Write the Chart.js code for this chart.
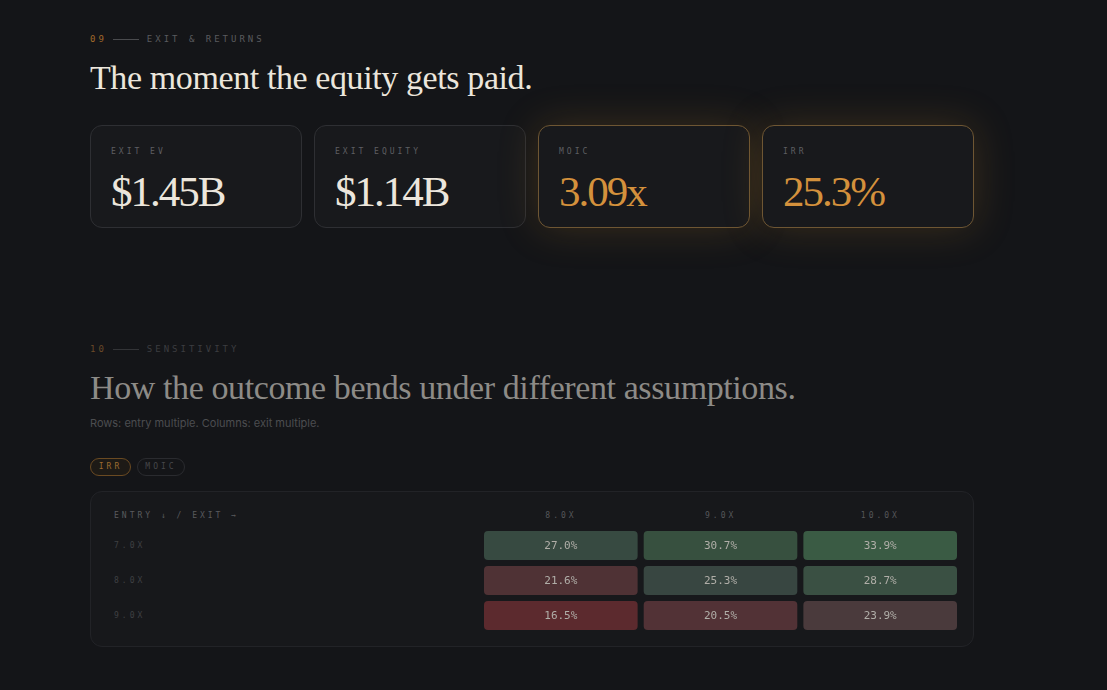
<!DOCTYPE html>
<html>
<head>
<meta charset="utf-8">
<script src="https://cdn.jsdelivr.net/npm/chart.js@4"></script>
<style>
  html, body { margin: 0; background: #141518; width: 1107px; height: 690px; overflow: hidden; }
  body { position: relative; font-family: "Inter", sans-serif; }
  .mono { font-family: "DejaVu Sans Mono", monospace; letter-spacing: 3px; font-size: 9px; text-transform: uppercase; }
  .abs { position: absolute; }
  .eyebrow { color: #5a5b5e; }
  .eyebrow b { font-weight: normal; color: #a0682a; }
  .eyebrow i { display: inline-block; width: 26px; height: 1px; background: #4a4b4e; vertical-align: middle; margin: 0 8px 0 6px; }
  h1 { position: absolute; margin: 0; font-family: "Liberation Serif", serif; font-weight: normal; font-size: 34px; letter-spacing: -0.4px; }
  .card { position: absolute; top: 125px; width: 212px; height: 103px; border: 1px solid #2e2f33; border-radius: 12px; background: #18191c; box-sizing: border-box; }
  .card.hot { border-color: #6e5633; box-shadow: 0 0 40px rgba(190,130,40,0.22); }
  .card .lab { position: absolute; left: 20px; top: 21px; font-size: 8px; color: #5e5f62; }
  .card .val { position: absolute; left: 20px; top: 41px; font-family: "Liberation Serif", serif; font-size: 43px; color: #ece6dc; letter-spacing: -2px; }
  .card.hot .val { color: #d4913c; }
  .pill { position: absolute; top: 458px; height: 18px; border-radius: 10px; box-sizing: border-box; font-size: 8px; line-height: 16px; text-align: center; }
  .tbl { position: absolute; left: 90px; top: 491px; width: 884px; height: 156px; border: 1px solid #222327; border-radius: 12px; background: #17181b; box-sizing: border-box; }
  .lbl { position: absolute; color: #3f4043; font-size: 8px; }
  .hdr { position: absolute; color: #56575a; font-size: 8px; width: 154px; text-align: center; }
</style>
</head>
<body>
<div class="abs mono eyebrow" style="left:90px;top:34px"><b>09</b><i></i>Exit &amp; Returns</div>
<h1 style="left:90px;top:59px;color:#ece6dc">The moment the equity gets paid.</h1>

<div class="card" style="left:90px"><div class="lab mono">Exit EV</div><div class="val">$1.45B</div></div>
<div class="card" style="left:314px"><div class="lab mono">Exit Equity</div><div class="val">$1.14B</div></div>
<div class="card hot" style="left:538px"><div class="lab mono">MOIC</div><div class="val">3.09x</div></div>
<div class="card hot" style="left:762px"><div class="lab mono">IRR</div><div class="val">25.3%</div></div>

<div class="abs mono eyebrow" style="left:90px;top:344px;color:#3c3d40"><b style="color:#6a4a28">10</b><i style="background:#333437"></i>Sensitivity</div>
<h1 style="left:90px;top:369px;color:#8d8b87">How the outcome bends under different assumptions.</h1>
<div class="abs" style="left:90px;top:416px;font-size:11px;color:#4c4d50">Rows: entry multiple. Columns: exit multiple.</div>

<div class="pill mono" style="left:90px;width:41px;border:1px solid #6a4a22;color:#9a6a30;background:#1d1a16">IRR</div>
<div class="pill mono" style="left:137px;width:48px;border:1px solid #2a2b2f;color:#46474a">MOIC</div>

<div class="tbl"></div>
<div class="lbl mono" style="left:114px;top:511px;color:#5a5b5e">Entry ↓ / Exit →</div>
<div id="hdrs"></div>
<div id="rows"></div>

<div class="abs" style="left:484px;top:528px;width:473px;height:105px">
  <canvas id="heat"></canvas>
</div>

<script>
// sensitivity grid: rows = entry multiple, columns = exit multiple
const entryLabels = ["7.0x", "8.0x", "9.0x"];
const exitLabels = ["8.0x", "9.0x", "10.0x"];
const irrGrid = [
  [27.0, 30.7, 33.9],
  [21.6, 25.3, 28.7],
  [16.5, 20.5, 23.9]
];
const cellColors = [
  ["#374a41", "#37503f", "#3a5b44"],
  ["#4f3235", "#384641", "#3a5043"],
  ["#5c2a2e", "#523236", "#4a3a3c"]
];

// html headers and row labels
const hdrs = document.getElementById("hdrs");
exitLabels.forEach((l, i) => {
  const d = document.createElement("div");
  d.className = "hdr mono";
  d.style.left = (484 + i * 159.7) + "px";
  d.style.top = "511px";
  d.textContent = l;
  hdrs.appendChild(d);
});
const rows = document.getElementById("rows");
entryLabels.forEach((l, i) => {
  const d = document.createElement("div");
  d.className = "lbl mono";
  d.style.left = "114px";
  d.style.top = (541 + i * 35) + "px";
  d.textContent = l;
  rows.appendChild(d);
});

// one dataset per exit column, floating bars across the x scale
const datasets = exitLabels.map((ex, c) => ({
  label: ex,
  data: entryLabels.map(() => [c, c + 0.962]),
  backgroundColor: entryLabels.map((_, r) => cellColors[r][c]),
  borderRadius: 4,
  borderSkipped: false,
  grouped: false,
  categoryPercentage: 1,
  barPercentage: 0.83
}));

const cellText = {
  id: "cellText",
  afterDatasetsDraw(chart) {
    const ctx = chart.ctx;
    ctx.save();
    ctx.font = "11px 'DejaVu Sans Mono', monospace";
    ctx.fillStyle = "#b0aea8";
    ctx.textAlign = "center";
    ctx.textBaseline = "middle";
    chart.data.datasets.forEach((ds, c) => {
      chart.getDatasetMeta(c).data.forEach((bar, r) => {
        const p = bar.getProps(["x", "base", "y"], true);
        ctx.fillText(irrGrid[r][c].toFixed(1) + "%", (p.x + p.base) / 2, p.y + 1);
      });
    });
    ctx.restore();
  }
};

new Chart(document.getElementById("heat"), {
  type: "bar",
  data: { labels: entryLabels, datasets },
  options: {
    indexAxis: "y",
    responsive: true,
    maintainAspectRatio: false,
    animation: false,
    layout: { padding: 0 },
    plugins: { legend: { display: false }, tooltip: { enabled: false } },
    scales: {
      x: { type: "linear", min: 0, max: 2.962, display: false },
      y: { display: false }
    }
  },
  plugins: [cellText]
});
</script>
</body>
</html>
